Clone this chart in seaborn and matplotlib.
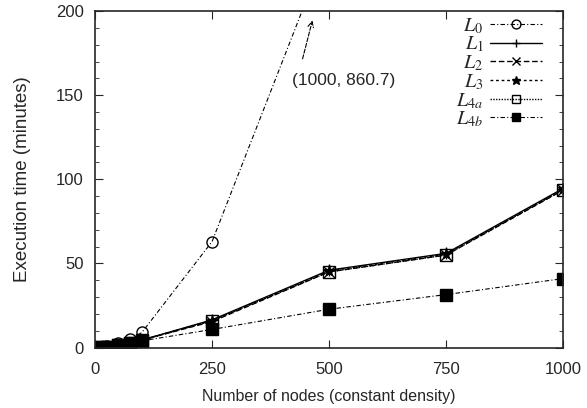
import matplotlib
matplotlib.use("Agg")
import matplotlib.pyplot as plt
import seaborn as sns
from matplotlib.ticker import MultipleLocator

# datos
nodos = [10, 25, 50, 75, 100, 250, 500, 750, 1000]
L0 = [0.3, 1.0, 2.5, 5.0, 9.0, 63.0, 241.0, 520.0, 860.7]
L1 = [0.2, 0.6, 1.5, 3.0, 4.5, 16.5, 46.0, 56.0, 94.5]
L2 = [0.2, 0.6, 1.5, 3.0, 4.5, 15.5, 45.0, 55.0, 93.5]
L3 = [0.2, 0.6, 1.5, 3.0, 4.5, 16.0, 45.5, 55.5, 94.0]
L4a = [0.2, 0.6, 1.5, 3.0, 4.5, 16.0, 45.0, 55.0, 93.8]
L4b = [0.2, 0.5, 1.3, 2.5, 4.0, 10.8, 22.8, 31.5, 41.0]

etiquetas = ["$L_0$", "$L_1$", "$L_2$", "$L_3$", "$L_{4a}$", "$L_{4b}$"]

sns.set_style("ticks")
plt.rcParams['font.family'] = ['Liberation Sans', 'DejaVu Sans']
plt.rcParams['mathtext.fontset'] = 'stix'

fig, ax = plt.subplots(figsize=(5.87, 4.08), dpi=100)
fig.subplots_adjust(left=0.162, right=0.959, bottom=0.148, top=0.973)

estilos = [
    (L0, "o", (0, (4, 2, 1, 2)), "none", 0.8),
    (L1, "+", "-", "k", 1.0),
    (L2, "x", (0, (4, 2)), "k", 1.0),
    (L3, "*", (0, (2, 2)), "k", 1.0),
    (L4a, "s", (0, (1, 1)), "none", 1.0),
    (L4b, "s", (0, (4, 2, 1, 2)), "k", 0.8),
]
for (vals, m, ls, fc, lw), lab in zip(estilos, etiquetas):
    sns.lineplot(x=nodos, y=vals, ax=ax, color="k", marker=m, markersize=8,
                 markerfacecolor=fc, markeredgecolor="k", markeredgewidth=1.0,
                 linestyle=ls, linewidth=lw, label=lab)

ax.set_xlim(0, 1000)
ax.set_ylim(0, 200)
ax.xaxis.set_major_locator(MultipleLocator(250))
ax.yaxis.set_major_locator(MultipleLocator(50))
ax.yaxis.set_minor_locator(MultipleLocator(10))
ax.tick_params(which="both", direction="in", top=True, right=True, labelsize=12)
ax.tick_params(which="major", length=6)
ax.tick_params(which="minor", length=3)
ax.tick_params(axis="x", pad=10)
ax.tick_params(axis="y", pad=8)
for s in ax.spines.values():
    s.set_linewidth(1.2)

ax.set_xlabel("Number of nodes (constant density)", fontsize=11.5, labelpad=9)
ax.set_ylabel("Execution time (minutes)", fontsize=13.5, labelpad=18)

ax.annotate("", xy=(466, 196), xytext=(442, 170),
            arrowprops=dict(arrowstyle="->", linestyle="--", lw=0.8, color="k"))
ax.text(421, 159, "(1000, 860.7)", fontsize=12.5, va="center")

ax.legend(loc="upper right", bbox_to_anchor=(0.955, 0.985), frameon=False,
          markerfirst=False, fontsize=14.5, markerscale=0.8,
          handlelength=2.6, labelspacing=-0.05, borderaxespad=0.0,
          borderpad=0.0, handletextpad=0.3)

plt.savefig("out.png", dpi=100)
